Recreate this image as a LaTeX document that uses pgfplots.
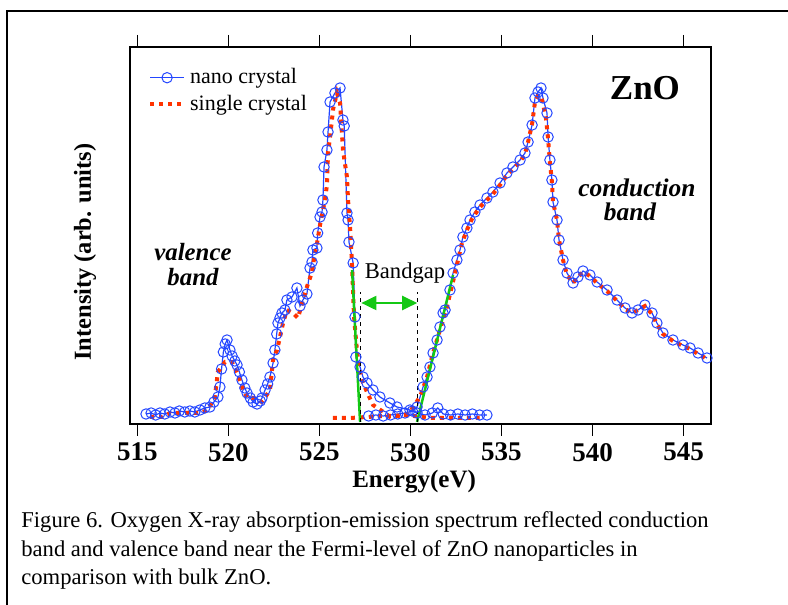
\documentclass[border=0pt]{standalone}
\usepackage{fontspec}
\setmainfont{Liberation Serif}
\usepackage{pgfplots}
\pgfplotsset{compat=1.18}
\usetikzlibrary{arrows.meta}

\definecolor{nanoblue}{RGB}{35,70,255}
\definecolor{singlered}{RGB}{255,51,0}
\definecolor{fitgreen}{RGB}{20,200,20}

\begin{document}
\begin{tikzpicture}
% page = 394pt x 302.5pt (reference pixels / 2)
\path[use as bounding box] (0,0) rectangle (394pt,302.5pt);
\draw[line width=0.75pt] (3.5pt,0) -- (3.5pt,297pt) -- (394pt,297pt);

\begin{axis}[
  at={(65pt,90.5pt)}, anchor=south west,
  scale only axis, width=290.5pt, height=188.5pt,
  xmin=514.59, xmax=546.51,
  ymin=0, ymax=377,
  xtick={515,520,...,545},
  ytick=\empty,
  tick align=outside,
  major tick length=6pt,
  tick style={line width=0.75pt, black},
  axis line style={line width=1pt},
  /pgf/number format/assume math mode=true,
  xticklabel style={font=\bfseries\fontsize{13.5}{15}\selectfont},
  xlabel={Energy(eV)},
  xlabel style={at={(rel axis cs:0.489,-0.154)}, anchor=center,
    font=\bfseries\fontsize{12.5}{14}\selectfont},
  ylabel={Intensity (arb. units)},
  ylabel style={at={(rel axis cs:-0.0775,0.456)}, anchor=center,
    font=\bfseries\fontsize{12.2}{14}\selectfont},
  legend style={at={(rel axis cs:0.02,0.965)}, anchor=north west,
    draw=none, fill=none, font=\fontsize{11}{13}\selectfont},
  legend cell align=left,
]

% nano crystal, emission part
\addplot[color=nanoblue, line width=0.6pt, mark=o, mark size=2.6pt,
  mark options={line width=0.5pt, solid}] coordinates {
  (515.47,10) (515.75,11) (516.00,9) (516.24,11) (516.50,10) (516.79,12)
  (517.06,11) (517.30,13) (517.60,12) (517.88,13) (518.15,12) (518.43,14)
  (518.70,16) (518.98,17) (519.20,22) (519.42,27) (519.53,37) (519.62,55)
  (519.72,72) (519.82,80) (519.92,84) (520.08,74) (520.20,68) (520.35,63)
  (520.47,59) (520.60,52) (520.74,44) (520.90,36) (521.02,31) (521.20,26)
  (521.35,22) (521.57,20) (521.75,23) (521.84,26) (522.01,34) (522.15,40)
  (522.28,47) (522.45,61) (522.55,74) (522.65,90) (522.72,101) (522.83,106)
  (522.94,111) (523.10,114) (523.21,124) (523.49,127) (523.76,136) (523.93,118)
  (524.09,124) (524.31,130) (524.48,156) (524.59,162) (524.64,174) (524.86,176)
  (524.90,191) (525.03,207) (525.14,212) (525.19,224) (525.25,257) (525.41,274)
  (525.47,292) (525.58,322) (525.85,331) (526.13,336) (526.29,304) (526.36,298)
  (526.51,211) (526.57,204) (526.62,182) (526.85,161) (526.95,107) (527.00,67)
  (527.23,57) (527.39,47) (527.61,41) (527.94,34) (528.32,27) (528.87,21)
  (529.26,17) (529.97,14) (530.36,11) (530.80,9) (531.20,11) (531.50,16)
  (531.80,10) (532.20,9) (532.60,10) (533.00,9) (533.40,10) (533.80,9) (534.20,9)
};
\addlegendentry{nano crystal}

% nano crystal, absorption part
\addplot[forget plot, color=nanoblue, line width=0.6pt, mark=o, mark size=2.6pt,
  mark options={line width=0.5pt, solid}] coordinates {
  (527.70,8) (528.10,9) (528.50,8) (528.90,9) (529.30,10) (529.70,11)
  (530.10,13) (530.36,17) (530.69,37) (530.91,47) (531.07,57) (531.24,71)
  (531.46,84) (531.62,97) (531.79,111) (531.90,114) (532.17,134) (532.34,151)
  (532.55,164) (532.72,174) (532.88,187) (533.10,196) (533.27,204) (533.54,212)
  (533.82,219) (534.20,226) (534.53,232) (534.92,241) (535.30,251) (535.63,257)
  (536.02,264) (536.29,271) (536.46,282) (536.68,299) (536.84,326) (537.01,332)
  (537.17,336) (537.28,326) (537.50,311) (537.56,287) (537.66,264) (537.77,244)
  (537.83,222) (538.05,204) (538.16,184) (538.38,164) (538.60,151) (538.93,141)
  (539.20,147) (539.48,153) (539.86,149) (540.25,142) (540.80,134) (541.35,124)
  (541.79,116) (542.17,111) (542.50,114) (542.88,119) (543.27,111) (543.54,101)
  (543.87,91) (544.42,84) (544.97,79) (545.36,76) (545.80,71) (546.29,66)
};

% single crystal, emission part
\addplot[color=singlered, line width=2pt, dash pattern=on 2pt off 2.5pt] coordinates {
  (515.69,7) (516.35,7) (516.79,11) (517.25,11) (517.88,11) (518.43,11)
  (518.87,14) (519.25,27) (519.42,52) (519.81,62) (520.19,62) (520.47,51)
  (520.74,37) (521.02,26) (521.40,26) (521.84,22) (522.28,34) (522.45,64)
  (522.67,74) (522.83,87) (523.00,101) (523.21,114) (523.54,111) (523.82,106)
  (524.09,124) (524.31,137) (524.59,152) (524.70,165) (524.86,180) (525.03,199)
  (525.30,224) (525.41,239) (525.47,271) (525.58,287) (525.75,315) (525.96,331)
  (526.13,321) (526.29,274) (526.51,247) (526.57,224) (526.70,191) (526.78,162)
  (526.90,107) (527.07,71) (527.28,46) (527.61,32) (527.94,19) (528.60,11)
  (528.87,7) (529.53,9) (530.20,8) (531.07,6) (531.62,6) (532.55,6) (533.27,6) (533.80,6)
};
\addlegendentry{single crystal}

% single crystal, absorption part
\addplot[forget plot, color=singlered, line width=2pt, dash pattern=on 2pt off 2.5pt] coordinates {
  (525.74,6) (526.68,6) (527.60,7) (528.50,8) (529.30,8) (529.90,10)
  (530.14,17) (530.52,27) (530.91,47) (531.24,71) (531.62,94) (532.00,117)
  (532.45,151) (532.83,181) (533.10,194) (533.40,206) (533.82,217) (534.20,224)
  (534.53,230) (534.92,239) (535.30,249) (535.63,255) (536.02,262) (536.29,270)
  (536.46,282) (536.68,300) (536.84,322) (537.01,328) (537.17,328) (537.28,320)
  (537.45,305) (537.56,285) (537.66,262) (537.77,242) (537.83,222) (538.05,204)
  (538.16,184) (538.38,164) (538.60,149) (538.93,141) (539.20,147) (539.48,152)
  (539.86,148) (540.25,141) (540.80,133) (541.35,123) (541.79,115) (542.17,111)
  (542.50,114) (542.88,118) (543.27,110) (543.54,100) (543.87,90) (544.42,83)
  (544.97,78) (545.36,75) (545.80,70) (546.29,65)
};

% band edge fits
\addplot[forget plot, color=fitgreen, line width=1.25pt] coordinates {(526.79,154) (527.23,2)};
\addplot[forget plot, color=fitgreen, line width=1.25pt] coordinates {(530.36,2) (532.34,149)};

% band edges
\addplot[forget plot, black, line width=0.5pt, dash pattern=on 2pt off 2pt] coordinates {(527.26,2) (527.26,132)};
\addplot[forget plot, black, line width=0.5pt, dash pattern=on 2pt off 2pt] coordinates {(530.40,2) (530.40,132)};

\draw[fitgreen, line width=1pt, {Triangle[length=7.5pt,width=7pt]}-{Triangle[length=7.5pt,width=7pt]}]
  (axis cs:527.30,121) -- (axis cs:530.37,121);

\node[font=\fontsize{11.3}{13}\selectfont] at (axis cs:529.70,151) {Bandgap};
\node[font=\bfseries\fontsize{17.5}{20}\selectfont] at (axis cs:542.88,336) {ZnO};
\node[font=\bfseries\itshape\fontsize{12.7}{14}\selectfont] at (axis cs:542.44,236) {conduction};
\node[font=\bfseries\itshape\fontsize{12.7}{14}\selectfont] at (axis cs:542.06,212) {band};
\node[font=\bfseries\itshape\fontsize{12.4}{14}\selectfont] at (axis cs:518.05,172) {valence};
\node[font=\bfseries\itshape\fontsize{12.4}{14}\selectfont] at (axis cs:518.05,147) {band};
\end{axis}

% base of a multi-line node is the last line's baseline
\node[anchor=base west, align=left, inner sep=0pt,
  font=\fontsize{11.3}{14.25}\selectfont] at (10.5pt,10pt)
  {Figure 6. Oxygen X-ray absorption-emission spectrum reflected conduction\\
   band and valence band near the Fermi-level of ZnO nanoparticles in\\
   comparison with bulk ZnO.};
\end{tikzpicture}
\end{document}
